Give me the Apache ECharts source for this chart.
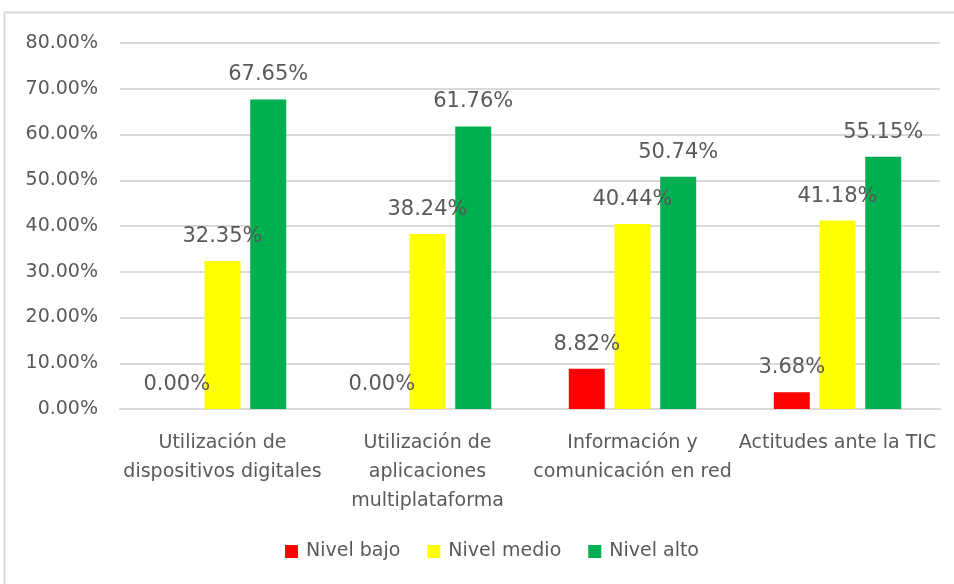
<!DOCTYPE html>
<html>
<head>
<meta charset="utf-8">
<script src="https://cdn.jsdelivr.net/npm/echarts@6/dist/echarts.min.js"></script>
<style>
  html, body { margin: 0; padding: 0; background: #fff; }
  #chart { width: 954px; height: 584px; }
</style>
</head>
<body>
<div id="chart"></div>
<script>
// datos del gráfico
var categories = [
  "Utilización de\ndispositivos digitales",
  "Utilización de\naplicaciones\nmultiplataforma",
  "Información y\ncomunicación en red",
  "Actitudes ante la TIC"
];
var nivelBajo = [0.00, 0.00, 8.82, 3.68];
var nivelMedio = [32.35, 38.24, 40.44, 41.18];
var nivelAlto = [67.65, 61.76, 50.74, 55.15];
var seriesNames = ["Nivel bajo", "Nivel medio", "Nivel alto"];
var colors = ["#ff0000", "#ffff00", "#00b050"];

var font = "'DejaVu Sans', sans-serif";
var textColor = "#595959";

function pct(v) {
  return Number(v).toFixed(2) + "%";
}

function makeSeries(name, values) {
  return {
    name: name,
    type: "bar",
    data: values,
    barWidth: 36,
    barGap: "27%",
    label: {
      show: true,
      position: "top",
      distance: 14,
      color: textColor,
      fontFamily: font,
      fontSize: 21,
      formatter: function(p) { return pct(p.value); }
    }
  };
}

var myChart = echarts.init(document.getElementById("chart"));
var option = {
  animation: false,
  color: colors,
  textStyle: { fontFamily: font },
  graphic: [
    {
      type: "rect",
      shape: { x: 4.5, y: 12.5, width: 1000, height: 700 },
      style: { fill: "none", stroke: "#d9d9d9", lineWidth: 2 },
      silent: true
    }
  ],
  grid: { left: 120, right: 14, top: 43, bottom: 175 },
  legend: {
    bottom: 18,
    left: 280,
    data: seriesNames,
    icon: "rect",
    itemWidth: 13,
    itemHeight: 13,
    itemGap: 27,
    textStyle: { color: textColor, fontFamily: font, fontSize: 19, padding: [0, 0, 0, 3] }
  },
  xAxis: {
    type: "category",
    data: categories,
    axisLine: { lineStyle: { color: "#d9d9d9", width: 2 } },
    axisTick: { show: false },
    axisLabel: {
      interval: 0,
      color: textColor,
      fontFamily: font,
      fontSize: 19,
      lineHeight: 29,
      margin: 20
    }
  },
  yAxis: {
    type: "value",
    min: 0,
    max: 80,
    interval: 10,
    axisLine: { show: false },
    axisTick: { show: false },
    splitLine: { lineStyle: { color: "#d9d9d9", width: 2 } },
    axisLabel: {
      color: textColor,
      fontFamily: font,
      fontSize: 19,
      margin: 22,
      formatter: function(v) { return pct(v); }
    }
  },
  series: [
    makeSeries(seriesNames[0], nivelBajo),
    makeSeries(seriesNames[1], nivelMedio),
    makeSeries(seriesNames[2], nivelAlto)
  ]
};
myChart.setOption(option);
</script>
</body>
</html>
